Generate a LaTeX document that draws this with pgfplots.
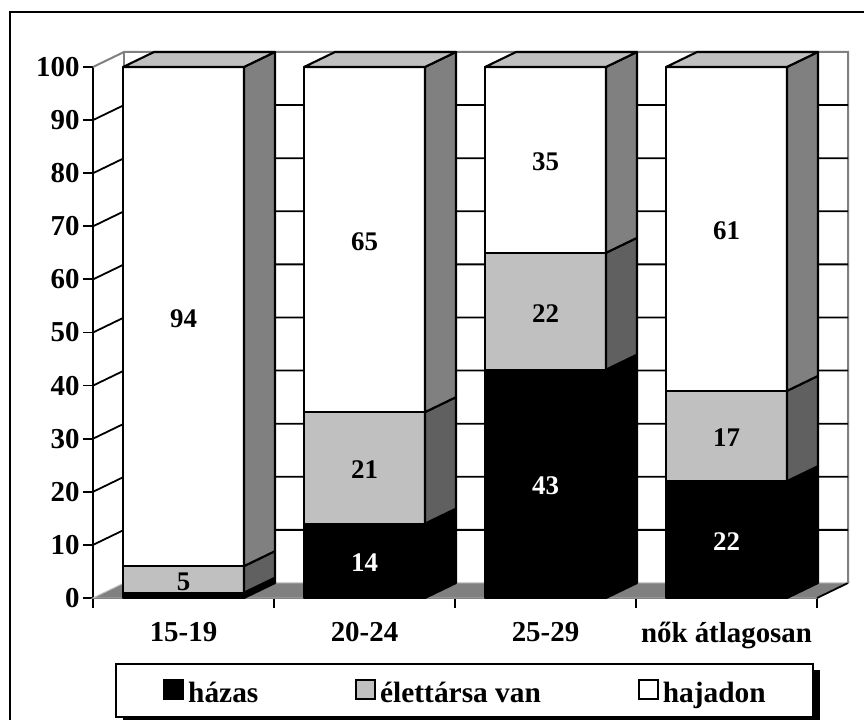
\documentclass[border=0pt]{standalone}
\usepackage{fontspec}
\setmainfont{Liberation Serif}
\usepackage{pgfplots}
\pgfplotsset{compat=1.18}
\definecolor{lg}{HTML}{C0C0C0}
\definecolor{mg}{HTML}{808080}
\definecolor{dg}{HTML}{606060}
\newcommand\dxx{0.1713}
\newcommand\dyy{2.825}
% one segment of a stacked prism: position, bottom, top, front colour, side colour
\newcommand\seg[5]{%
  \pgfmathsetmacro\xl{#1+0.166}%
  \pgfmathsetmacro\xr{#1+0.834}%
  \pgfmathsetmacro\xd{\xr+\dxx}%
  \pgfmathsetmacro\ya{#2+\dyy}%
  \pgfmathsetmacro\yb{#3+\dyy}%
  \edef\tmp{\noexpand\addplot[forget plot,fill=#4,draw=black,line width=2.1bp,line join=round] coordinates {(\xl,#2) (\xr,#2) (\xr,#3) (\xl,#3)} -- cycle;
  \noexpand\addplot[forget plot,fill=#5,draw=black,line width=2.1bp,line join=round] coordinates {(\xr,#2) (\xd,\ya) (\xd,\yb) (\xr,#3)} -- cycle;}%
  \tmp}
% lid of a prism
\newcommand\lid[2]{%
  \pgfmathsetmacro\xl{#1+0.166}%
  \pgfmathsetmacro\xr{#1+0.834}%
  \pgfmathsetmacro\xd{\xr+\dxx}%
  \pgfmathsetmacro\xe{\xl+\dxx}%
  \pgfmathsetmacro\yb{#2+\dyy}%
  \edef\tmp{\noexpand\addplot[forget plot,fill=lg,draw=black,line width=2.1bp,line join=round] coordinates {(\xl,#2) (\xr,#2) (\xd,\yb) (\xe,\yb)} -- cycle;}%
  \tmp}
\newcommand\lab[4]{%
  \pgfmathsetmacro\xc{#1+0.5}%
  \edef\tmp{\noexpand\node[text=#4,font=\noexpand\bfseries\noexpand\fontsize{27}{27}\noexpand\selectfont,inner sep=0pt,yshift=-2bp] at (axis cs:\xc,#2) {#3};}%
  \tmp}
\newcommand\grid[1]{%
  \pgfmathsetmacro\ya{#1+\dyy}%
  \pgfmathsetmacro\xb{4+\dxx}%
  \edef\tmp{\noexpand\addplot[forget plot,black,line width=1.8bp] coordinates {(0,#1) (\dxx,\ya) (\xb,\ya)};}%
  \tmp}
\pgfplotsset{box legend/.style={legend image code/.code={\draw[##1,line width=1.8bp] (3bp,-4bp) rectangle (22bp,15bp);}}}
\begin{document}
\begin{tikzpicture}
\path[use as bounding box] (0,0) rectangle (864bp,720bp);
\draw[line width=2bp] (864bp,708bp) -- (10bp,708bp) -- (10bp,0bp);
\fill[black] (123bp,-3bp) rectangle (820bp,50bp);
\begin{axis}[
  at={(93bp,122bp)}, anchor=south west,
  scale only axis, width=724bp, height=531bp,
  xmin=0, xmax=4, ymin=0, ymax=100,
  clip=false,
  axis x line=bottom, axis y line=left,
  axis line style={-, line width=1.8bp},
  ytick={0,10,...,100},
  xtick={0.5,1.5,2.5,3.5},
  xticklabels={15-19,20-24,25-29,nők átlagosan},
  minor xtick={0,1,2,3,4},
  major x tick style={draw=none},
  minor x tick style={line width=1.8bp, black},
  major y tick style={line width=1.8bp, black},
  tick align=outside,
  minor tick length=10bp, major tick length=10bp,
  /pgf/number format/assume math mode=true,
  tick label style={font=\bfseries\fontsize{29}{29}\selectfont},
  yticklabel style={xshift=0bp},
  xticklabel style={yshift=-11bp},
  legend columns=3,
  legend cell align=left,
  legend style={
    at={(0.0318,-0.1243)}, anchor=north west,
    draw=black, line width=1.8bp,
    font=\bfseries\fontsize{29.5}{29.5}\selectfont,
    minimum width=697bp, minimum height=53bp,
    inner sep=0pt, outer sep=0pt,
    nodes={minimum width=0pt, minimum height=0pt, inner sep=0pt, inner xsep=0bp, text depth=0pt, outer sep=0pt, yshift=3bp},
    /tikz/every odd column/.append style={column sep=4bp},
    /tikz/every even column/.append style={column sep=97bp},
  },
]
% walls and floor
\addplot[forget plot,fill=mg,draw=lg,line width=1bp] coordinates {(0,0) (4,0) (4.1713,2.825) (0.1713,2.825)} -- cycle;
\addplot[forget plot,black,line width=1.8bp] coordinates {(4,0) (4.1713,2.825)};
\addplot[forget plot,mg,line width=2bp] coordinates {(0,100) (0.1713,102.825) (4.1713,102.825) (4.1713,2.825)};
\addplot[forget plot,mg,line width=2bp] coordinates {(0.1713,102.825) (0.1713,2.825)};
\grid{10}\grid{20}\grid{30}\grid{40}\grid{50}\grid{60}\grid{70}\grid{80}\grid{90}
% bars: cumulative bounds of házas, élettársa van, hajadon
\seg{0}{0}{1}{black}{black}\seg{0}{1}{6}{lg}{dg}\seg{0}{6}{100}{white}{mg}\lid{0}{100}
\seg{1}{0}{14}{black}{black}\seg{1}{14}{35}{lg}{dg}\seg{1}{35}{100}{white}{mg}\lid{1}{100}
\seg{2}{0}{43}{black}{black}\seg{2}{43}{65}{lg}{dg}\seg{2}{65}{100}{white}{mg}\lid{2}{100}
\seg{3}{0}{22}{black}{black}\seg{3}{22}{39}{lg}{dg}\seg{3}{39}{100}{white}{mg}\lid{3}{100}
\lab{0}{3.5}{5}{black}\lab{0}{53}{94}{black}
\lab{1}{7}{14}{white}\lab{1}{24.5}{21}{black}\lab{1}{67.5}{65}{black}
\lab{2}{21.5}{43}{white}\lab{2}{54}{22}{black}\lab{2}{82.5}{35}{black}
\lab{3}{11}{22}{white}\lab{3}{30.5}{17}{black}\lab{3}{69.5}{61}{black}
\addlegendimage{box legend,draw=black,fill=black}
\addlegendentry{házas}
\addlegendimage{box legend,draw=black,fill=lg}
\addlegendentry{élettársa van}
\addlegendimage{box legend,draw=black,fill=white}
\addlegendentry{hajadon}
\end{axis}
\end{tikzpicture}
\end{document}
